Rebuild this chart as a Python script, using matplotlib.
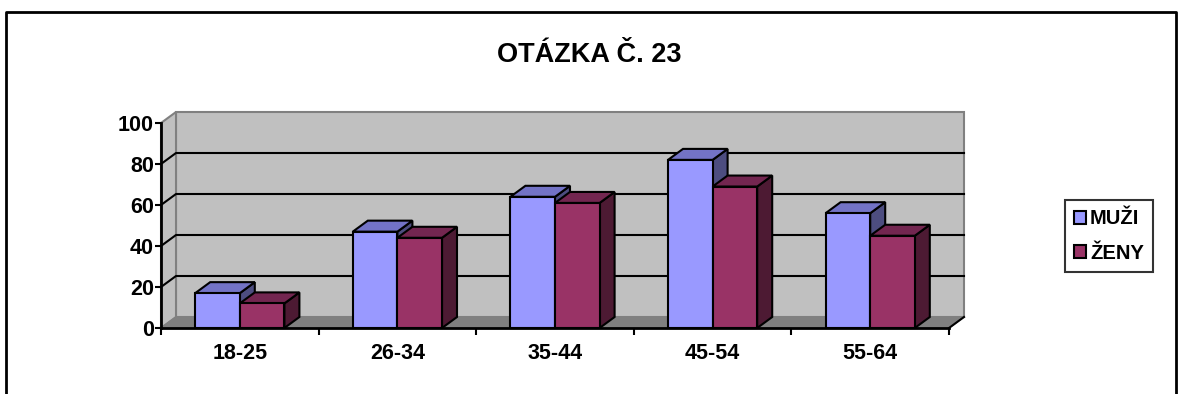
import numpy as np
import matplotlib
matplotlib.use("Agg")
import matplotlib.pyplot as plt
from matplotlib.patches import Rectangle, Polygon, Patch
from matplotlib.lines import Line2D

plt.rcParams['font.family'] = ['Liberation Sans', 'DejaVu Sans']
plt.rcParams['font.weight'] = 'bold'

# data
categories = ["18-25", "26-34", "35-44", "45-54", "55-64"]
muzi = [17, 47, 64, 82, 56]
zeny = [12, 44, 61, 69, 45]
series_names = ["MUŽI", "ŽENY"]
title = "OTÁZKA Č. 23"

# colours: front, top, side
cols = {
    "MUŽI": ("#9999FF", "#7373C6", "#4D4D80"),
    "ŽENY": ("#993366", "#732650", "#4D1A33"),
}

W, H = 1180, 394
fig = plt.figure(figsize=(W / 100, H / 100), dpi=100)

# front plane of the plot area (pixels)
px_left, px_right, px_bottom, px_top = 161, 949, 328, 123
ax = fig.add_axes([px_left / W, 1 - px_bottom / H,
                   (px_right - px_left) / W, (px_bottom - px_top) / H])
ax.set_xlim(0, len(categories))
ax.set_ylim(0, 100)

# 3d depth offset expressed in data units
dx = 15 / ((px_right - px_left) / len(categories))
dy = 11 / ((px_bottom - px_top) / 100)
n = len(categories)

# back wall, left wall, floor
ax.add_patch(Rectangle((dx, dy), n, 100, facecolor="#C0C0C0", edgecolor="#808080",
                       lw=1.5, clip_on=False, zorder=1))
ax.add_patch(Polygon([(0, 0), (dx, dy), (dx, 100 + dy), (0, 100)], closed=True,
                     facecolor="#C0C0C0", edgecolor="#808080", lw=1.5, clip_on=False, zorder=1))
ax.add_patch(Polygon([(0, 0), (n, 0), (n + dx, dy), (dx, dy)], closed=True,
                     facecolor="#808080", edgecolor="#808080", lw=1, clip_on=False, zorder=1))
ax.plot([n, n + dx], [0, dy], color="black", lw=1.5, clip_on=False, zorder=2)

# gridlines
for v in [20, 40, 60, 80]:
    ax.plot([0, dx, n + dx], [v, v + dy, v + dy], color="black", lw=1.5,
            clip_on=False, zorder=2)

# bars
bw = 44.6 / ((px_right - px_left) / n)
for i in range(n):
    for j, (name, vals) in enumerate(zip(series_names, [muzi, zeny])):
        x0 = i + 0.5 - bw + j * bw
        v = vals[i]
        front, top, side = cols[name]
        ax.add_patch(Polygon([(x0 + bw, 0), (x0 + bw + dx, dy), (x0 + bw + dx, v + dy), (x0 + bw, v)],
                             closed=True, facecolor=side, edgecolor="black", lw=1.5,
                             clip_on=False, zorder=3))
        ax.add_patch(Polygon([(x0, v), (x0 + dx, v + dy), (x0 + bw + dx, v + dy), (x0 + bw, v)],
                             closed=True, facecolor=top, edgecolor="black", lw=1.5,
                             clip_on=False, zorder=3))
        ax.bar(x0, v, width=bw, align="edge", color=front, edgecolor="black", lw=1.5,
               zorder=3, clip_on=False)

# axes
for s in ["top", "right"]:
    ax.spines[s].set_visible(False)
for s in ["left", "bottom"]:
    ax.spines[s].set_linewidth(2)
    ax.spines[s].set_zorder(5)
ax.set_facecolor("none")
ax.set_yticks(range(0, 101, 20))
ax.tick_params(axis="y", direction="out", length=4, width=1.5, pad=1, labelsize=15.5)
ax.set_xticks(range(n + 1))
ax.set_xticklabels([])
ax.set_xticks(np.arange(n) + 0.5, minor=True)
ax.set_xticklabels(categories, minor=True, fontsize=15.5)
ax.tick_params(axis="x", which="major", direction="out", length=5, width=1.5)
ax.tick_params(axis="x", which="minor", length=0, pad=11)

fig.text(0.499, 1 - 55 / H, title, ha="center", va="center", fontsize=19.5, fontweight="bold")

handles = [Patch(facecolor=cols[s][0], edgecolor="black", lw=1.5) for s in series_names]
leg = fig.legend(handles, series_names, loc="center", bbox_to_anchor=(1109 / W, 1 - 236 / H),
                 fontsize=14.5, frameon=True, fancybox=False, handlelength=0.6, handleheight=0.6,
                 handletextpad=0.2, labelspacing=0.75, borderpad=0.45, borderaxespad=0)
leg.get_frame().set_edgecolor("black")
leg.get_frame().set_linewidth(1.5)

# outer frame
fx0, fx1, fy = 6 / W, 1176 / W, 1 - 12 / H
fig.add_artist(Line2D([fx0, fx0, fx1, fx1], [0, fy, fy, 0], color="black", lw=2,
                      transform=fig.transFigure))

fig.savefig("out.png", dpi=100)
